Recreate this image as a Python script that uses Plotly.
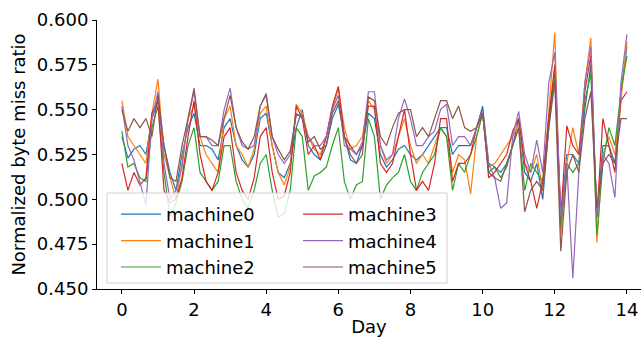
import plotly.graph_objects as go

# time grid: every 4 hours over 14 days
hours = list(range(0, 337, 4))
days = [h / 24 for h in hours]

machine0 = [
    0.535, 0.523, 0.528, 0.530, 0.525, 0.545,
    0.555, 0.530, 0.515, 0.505, 0.525, 0.540,
    0.548, 0.530, 0.530, 0.528, 0.522, 0.540,
    0.545, 0.530, 0.522, 0.518, 0.525, 0.545,
    0.548, 0.530, 0.515, 0.512, 0.520, 0.540,
    0.550, 0.530, 0.525, 0.522, 0.530, 0.545,
    0.553, 0.535, 0.522, 0.520, 0.530, 0.548,
    0.545, 0.525, 0.518, 0.522, 0.528, 0.530,
    0.525, 0.522, 0.525, 0.530, 0.535, 0.540,
    0.540, 0.525, 0.530, 0.530, 0.530, 0.540,
    0.552, 0.520, 0.518, 0.515, 0.520, 0.530,
    0.545, 0.515, 0.510, 0.520, 0.500, 0.540,
    0.570, 0.490, 0.525, 0.525, 0.520, 0.550,
    0.575, 0.490, 0.530, 0.530, 0.520, 0.560,
    0.585,
]
machine1 = [
    0.555, 0.535, 0.530, 0.525, 0.520, 0.548,
    0.567, 0.525, 0.512, 0.500, 0.520, 0.545,
    0.552, 0.535, 0.525, 0.520, 0.515, 0.545,
    0.552, 0.530, 0.525, 0.518, 0.528, 0.548,
    0.552, 0.530, 0.515, 0.508, 0.518, 0.553,
    0.548, 0.535, 0.528, 0.525, 0.535, 0.550,
    0.562, 0.540, 0.528, 0.530, 0.535, 0.555,
    0.550, 0.530, 0.520, 0.525, 0.535, 0.545,
    0.530, 0.520, 0.525, 0.520, 0.530, 0.540,
    0.535, 0.515, 0.525, 0.522, 0.503, 0.535,
    0.548, 0.518, 0.520, 0.525, 0.530, 0.535,
    0.542, 0.520, 0.515, 0.525, 0.505, 0.550,
    0.593, 0.480, 0.520, 0.540, 0.525, 0.565,
    0.590, 0.476, 0.525, 0.535, 0.525, 0.555,
    0.588,
]
machine2 = [
    0.538, 0.518, 0.520, 0.512, 0.510, 0.540,
    0.552, 0.515, 0.490, 0.498, 0.510, 0.530,
    0.540, 0.515, 0.510, 0.505, 0.510, 0.530,
    0.530, 0.510, 0.500, 0.495, 0.505, 0.520,
    0.525, 0.505, 0.490, 0.492, 0.505, 0.540,
    0.535, 0.505, 0.513, 0.515, 0.518, 0.530,
    0.540, 0.510, 0.500, 0.508, 0.510, 0.545,
    0.535, 0.500, 0.508, 0.512, 0.515, 0.525,
    0.510, 0.505, 0.515, 0.520, 0.525, 0.540,
    0.535, 0.505, 0.520, 0.515, 0.525, 0.535,
    0.548, 0.515, 0.518, 0.512, 0.518, 0.530,
    0.540, 0.505, 0.520, 0.515, 0.510, 0.545,
    0.570, 0.485, 0.520, 0.515, 0.520, 0.555,
    0.570, 0.480, 0.520, 0.540, 0.530, 0.560,
    0.580,
]
machine3 = [
    0.520, 0.505, 0.515, 0.508, 0.512, 0.548,
    0.555, 0.505, 0.498, 0.500, 0.512, 0.535,
    0.555, 0.525, 0.510, 0.505, 0.515, 0.535,
    0.540, 0.515, 0.505, 0.500, 0.512, 0.535,
    0.540, 0.515, 0.500, 0.502, 0.515, 0.552,
    0.545, 0.525, 0.530, 0.522, 0.535, 0.552,
    0.563, 0.535, 0.530, 0.525, 0.530, 0.552,
    0.552, 0.520, 0.515, 0.520, 0.535, 0.550,
    0.525, 0.505, 0.510, 0.505, 0.520, 0.545,
    0.545, 0.510, 0.520, 0.520, 0.525, 0.540,
    0.550, 0.512, 0.515, 0.520, 0.525, 0.538,
    0.545, 0.520, 0.510, 0.495, 0.510, 0.545,
    0.575, 0.490, 0.541, 0.530, 0.525, 0.560,
    0.580, 0.490, 0.545, 0.530, 0.515, 0.555,
    0.560,
]
machine4 = [
    0.552, 0.530, 0.522, 0.510, 0.497, 0.545,
    0.560, 0.520, 0.500, 0.505, 0.518, 0.545,
    0.560, 0.535, 0.535, 0.530, 0.530, 0.550,
    0.562, 0.540, 0.530, 0.528, 0.530, 0.552,
    0.558, 0.535, 0.525, 0.520, 0.525, 0.548,
    0.545, 0.535, 0.530, 0.530, 0.535, 0.550,
    0.558, 0.530, 0.528, 0.525, 0.532, 0.560,
    0.560, 0.530, 0.522, 0.525, 0.545, 0.556,
    0.545, 0.530, 0.530, 0.535, 0.538, 0.550,
    0.553, 0.530, 0.535, 0.535, 0.530, 0.540,
    0.550, 0.520, 0.512, 0.495, 0.498, 0.535,
    0.549, 0.525, 0.515, 0.533, 0.515, 0.565,
    0.582, 0.490, 0.520, 0.456, 0.515, 0.565,
    0.585, 0.490, 0.525, 0.520, 0.501, 0.565,
    0.592,
]
machine5 = [
    0.550, 0.538, 0.545, 0.540, 0.545, 0.535,
    0.558, 0.530, 0.512, 0.510, 0.530, 0.545,
    0.562, 0.535, 0.535, 0.533, 0.530, 0.545,
    0.558, 0.540, 0.532, 0.528, 0.535, 0.552,
    0.559, 0.535, 0.528, 0.522, 0.527, 0.547,
    0.547, 0.532, 0.535, 0.528, 0.530, 0.548,
    0.555, 0.535, 0.525, 0.520, 0.525, 0.557,
    0.555, 0.535, 0.530, 0.540, 0.548, 0.550,
    0.550, 0.535, 0.540, 0.535, 0.545, 0.555,
    0.555, 0.545, 0.552, 0.540, 0.538, 0.540,
    0.548, 0.515, 0.512, 0.510, 0.520, 0.530,
    0.540, 0.493, 0.505, 0.510, 0.505, 0.540,
    0.565, 0.471, 0.515, 0.525, 0.515, 0.545,
    0.560, 0.495, 0.520, 0.525, 0.520, 0.545,
    0.545,
]

series = [machine0, machine1, machine2, machine3, machine4, machine5]
names = ["machine0", "machine1", "machine2", "machine3", "machine4", "machine5"]
colors = ["#1f77b4", "#ff7f0e", "#2ca02c", "#d62728", "#9467bd", "#8c564b"]
legend_ids = ["legend", "legend", "legend", "legend2", "legend2", "legend2"]

y_ticks = [0.450, 0.475, 0.500, 0.525, 0.550, 0.575, 0.600]
x_ticks = [0, 2, 4, 6, 8, 10, 12, 14]

FONT = "DejaVu Sans"

fig = go.Figure()
for vals, name, col, lg in zip(series, names, colors, legend_ids):
    fig.add_trace(go.Scatter(
        x=days, y=vals, mode="lines", name=name,
        line=dict(color=col, width=1.2),
        legend=lg,
    ))

W, H = 641, 337
L, R, T, B = 97, 0, 20, 48
pw, ph = W - L - R, H - T - B

def px_x(px):
    return (px - L) / pw

def px_y(py):
    return (H - B - py) / ph

fig.add_shape(
    type="rect", xref="paper", yref="paper",
    x0=px_x(107), x1=px_x(447), y0=px_y(283), y1=px_y(193),
    line=dict(color="#d0d0d0", width=1),
    fillcolor="rgba(255,255,255,0.8)", layer="above",
)

legend_common = dict(
    bgcolor="rgba(0,0,0,0)", borderwidth=0,
    font=dict(family=FONT, size=18, color="#000000"),
    xanchor="left", yanchor="top", tracegroupgap=0,
    itemwidth=40,
)

fig.update_layout(
    width=W, height=H,
    margin=dict(l=L, r=R, t=T, b=B),
    paper_bgcolor="white", plot_bgcolor="white",
    font=dict(family=FONT, size=18, color="#000000"),
    showlegend=True,
    legend=dict(x=px_x(116), y=px_y(196), **legend_common),
    legend2=dict(x=px_x(298), y=px_y(196), **legend_common),
    xaxis=dict(
        range=[-0.69, 14.39], tickvals=x_ticks,
        ticktext=[str(v) for v in x_ticks],
        showgrid=False, zeroline=False,
        showline=True, linecolor="#000000", linewidth=1,
        ticks="outside", ticklen=4, tickcolor="#000000",
        tickfont=dict(family=FONT, size=18),
        title=dict(text="Day", font=dict(family=FONT, size=18), standoff=4),
        automargin=False,
    ),
    yaxis=dict(
        range=[0.45, 0.60], tickvals=y_ticks,
        ticktext=[f"{v:.3f}" for v in y_ticks],
        showgrid=False, zeroline=False,
        showline=True, linecolor="#000000", linewidth=1,
        ticks="outside", ticklen=4, tickcolor="#000000",
        tickfont=dict(family=FONT, size=18),
        title=dict(text="Normalized byte miss ratio", font=dict(family=FONT, size=18), standoff=6),
        automargin=False,
    ),
)

fig.write_html("out.html", config={"displayModeBar": False},
               post_script="document.body.style.margin='0';")
